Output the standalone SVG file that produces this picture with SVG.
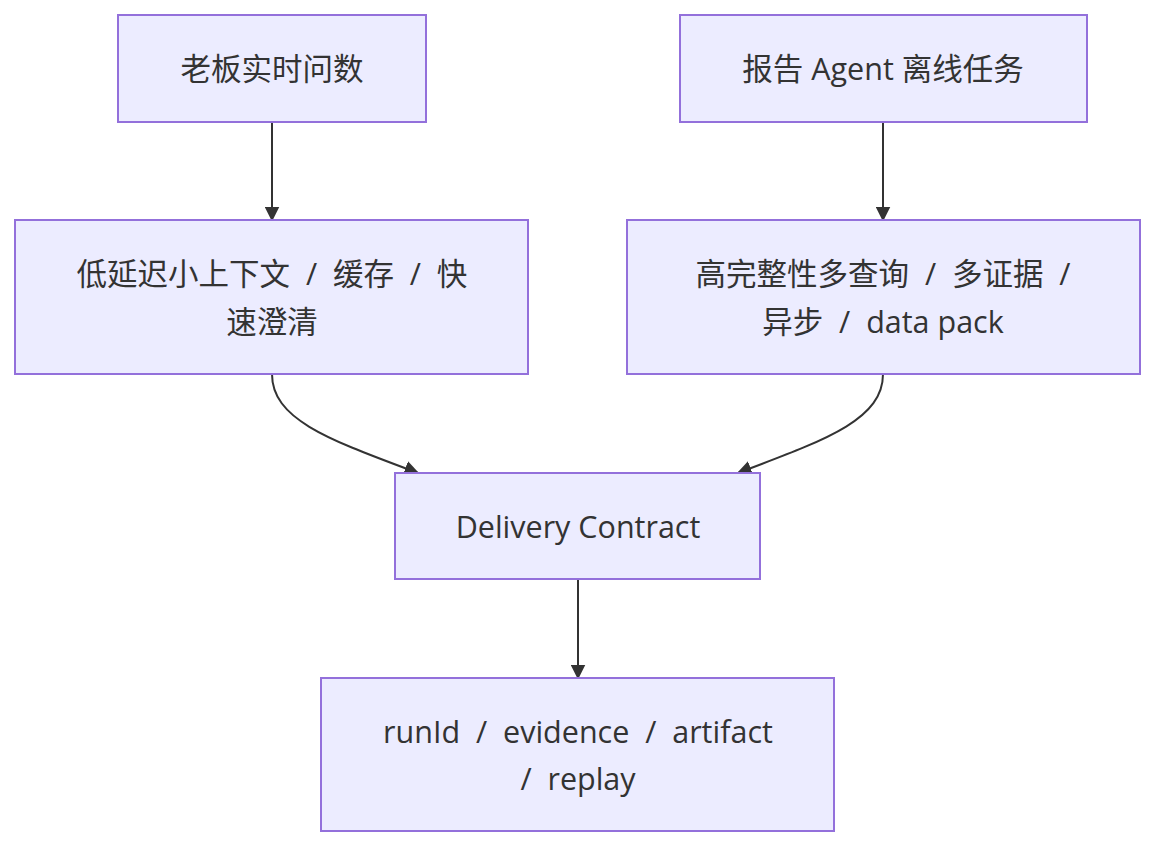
<svg xmlns="http://www.w3.org/2000/svg" width="1172" height="860" viewBox="0 0 1172 860">
<style>
.n rect{fill:#ECECFF;stroke:#9370DB;stroke-width:2}
.n text{font-family:"Open Sans","Noto Sans CJK SC",sans-serif;font-size:30.5px;fill:#333;text-anchor:middle;dominant-baseline:central;white-space:pre}
.e path{fill:none;stroke:#333;stroke-width:2;marker-end:url(#ah)}
</style>
<defs><marker id="ah" viewBox="0 0 10 10" refX="9" refY="5" markerWidth="15" markerHeight="15" orient="auto" markerUnits="userSpaceOnUse"><path d="M0,0L10,5L0,10z" fill="#333"/></marker></defs>
<rect width="1172" height="860" fill="#fff"/>
<g class="e">
<path d="M272,122V220"/>
<path d="M883,122V220"/>
<path d="M272,374C272,420 330,440 418,473"/>
<path d="M883,374C883,420 825,440 738,473"/>
<path d="M578,579V678"/>
</g>
<g id="A" class="n"><rect x="118" y="15" width="308" height="107"/><text x="272" y="68">老板实时问数</text></g>
<g id="B" class="n"><rect x="680" y="15" width="407" height="107"/><text x="883" y="68">报告 Agent 离线任务</text></g>
<g id="C" class="n"><rect x="15" y="220" width="513" height="154"/><text x="272" y="273" xml:space="preserve">低延迟小上下文  /  缓存  /  快</text><text x="272" y="321">速澄清</text></g>
<g id="D" class="n"><rect x="627" y="220" width="513" height="154"/><text x="883" y="273" xml:space="preserve">高完整性多查询  /  多证据  /</text><text x="883" y="321" xml:space="preserve">异步  /  data pack</text></g>
<g id="E" class="n"><rect x="395" y="473" width="365" height="106"/><text x="578" y="526">Delivery Contract</text></g>
<g id="F" class="n"><rect x="321" y="678" width="513" height="153"/><text x="578" y="731" xml:space="preserve">runId  /  evidence  /  artifact</text><text x="578" y="778" xml:space="preserve">/  replay</text></g>
</svg>
